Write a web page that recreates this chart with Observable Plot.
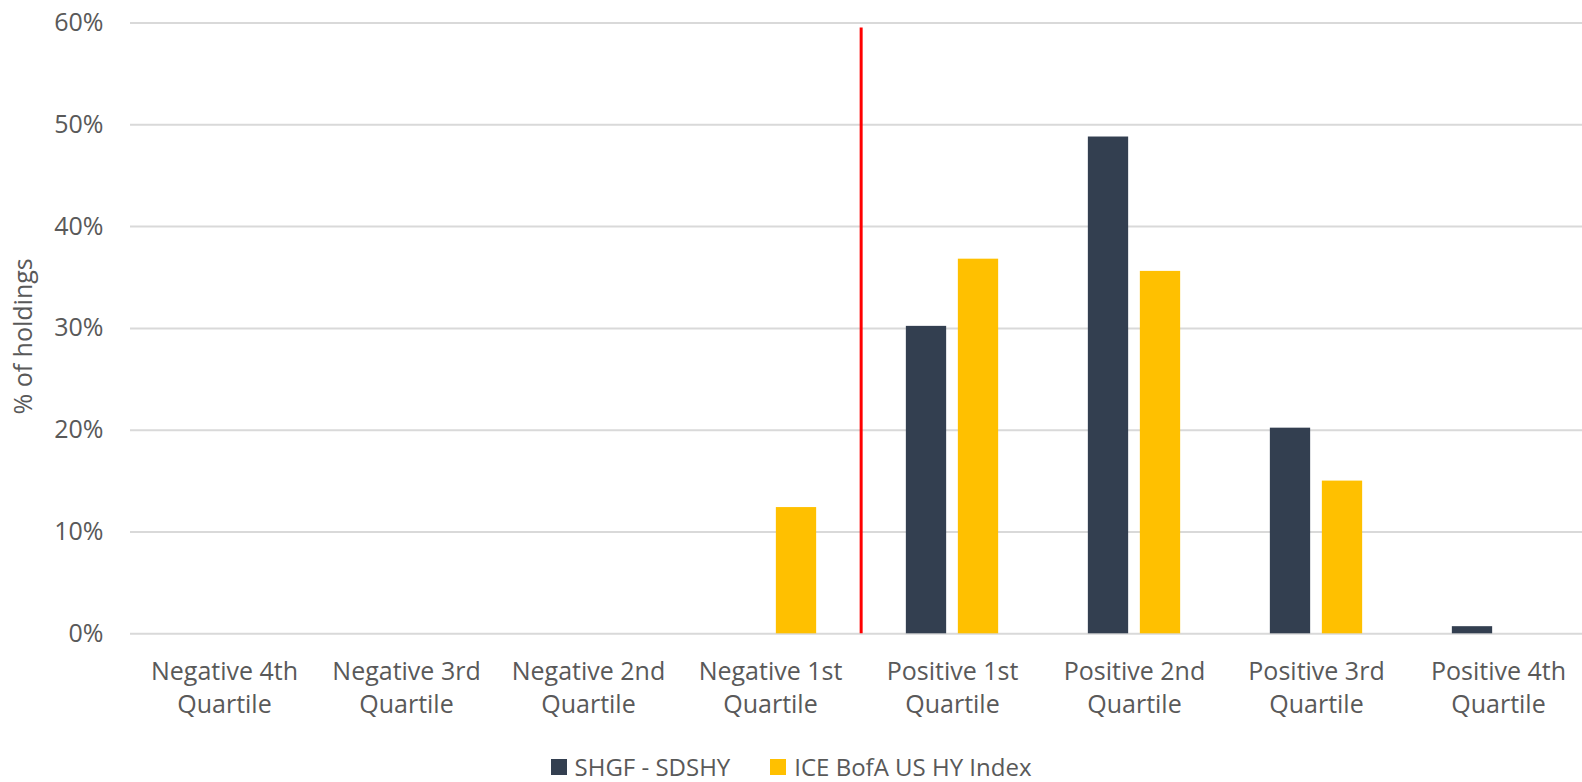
<!DOCTYPE html>
<html>
<head>
<meta charset="utf-8">
<script src="https://cdn.jsdelivr.net/npm/d3@7"></script>
<script src="https://cdn.jsdelivr.net/npm/@observablehq/plot@0.6"></script>
<style>
  html, body { margin: 0; padding: 0; background: #fff; }
  #chart { width: 1582px; }
  .legend { display: flex; justify-content: center; align-items: center; gap: 40px;
            font-family: "Open Sans", sans-serif; font-size: 24px; color: #595959;
            height: 37px; margin-top: 0px; padding-top: 6px; box-sizing: border-box; }
  .legend .item { display: flex; align-items: center; gap: 8px; }
  .legend .sw { width: 16px; height: 16px; display: inline-block; }
</style>
</head>
<body>
<div id="chart"></div>
<script>
// ---- data ----
const categories = [
  "Negative 4th Quartile", "Negative 3rd Quartile", "Negative 2nd Quartile", "Negative 1st Quartile",
  "Positive 1st Quartile", "Positive 2nd Quartile", "Positive 3rd Quartile", "Positive 4th Quartile"
];
const seriesNames = ["SHGF - SDSHY", "ICE BofA US HY Index"];
const shgfValues = [0, 0, 0, 0, 30.2, 48.8, 20.2, 0.7];
const iceValues  = [0, 0, 0, 12.4, 36.8, 35.6, 15.0, 0];
const yTicks = [0, 10, 20, 30, 40, 50, 60];
const dividerBefore = "Positive 1st Quartile";
const dividerTop = 59.5;
const yLabel = "% of holdings";

// ---- layout / style ----
const colors = ["#333F50", "#FFC000"];
const W = 1582, H = 745;
const xRange = [130, 1591.6];
const step = (xRange[1] - xRange[0]) / categories.length;
const barW = 41, barOff = 26;
const inset = (step - barW) / 2;

const rows = categories.map((c, i) => ({cat: c, s: shgfValues[i], i: iceValues[i]}));
const line1 = c => c.replace(/ Quartile$/, "");
const line2 = c => "Quartile";

const plot = Plot.plot({
  width: W,
  height: H,
  marginTop: 22.5,
  marginBottom: H - 633.3,
  marginLeft: 130,
  marginRight: 0,
  style: {fontFamily: "'Open Sans', sans-serif", fontSize: "25px", color: "#595959", background: "#fff"},
  x: {type: "band", domain: categories, range: xRange, padding: 0, axis: null},
  y: {domain: [0, 60], ticks: yTicks, tickFormat: d => d + "%", tickSize: 0, tickPadding: 27, label: null},
  marks: [
    Plot.ruleY(yTicks, {stroke: "#d9d9d9", strokeWidth: 2}),
    Plot.barY(rows, {x: "cat", y: "s", fill: colors[0], insetLeft: inset, insetRight: inset, dx: -barOff}),
    Plot.barY(rows, {x: "cat", y: "i", fill: colors[1], insetLeft: inset, insetRight: inset, dx: barOff}),
    Plot.ruleX([dividerBefore], {x: d => d, y1: 0, y2: dividerTop, stroke: "#FF0000", strokeWidth: 3, dx: -step / 2}),
    Plot.text(categories, {x: d => d, text: line1, frameAnchor: "bottom", lineAnchor: "middle", dy: 38, fill: "#595959", fontSize: 25}),
    Plot.text(categories, {x: d => d, text: line2, frameAnchor: "bottom", lineAnchor: "middle", dy: 71, fill: "#595959", fontSize: 25}),
    Plot.text([yLabel], {text: d => d, frameAnchor: "left", textAnchor: "middle", rotate: -90, dx: -107, dy: 8, fill: "#595959", fontSize: 25})
  ]
});
document.getElementById("chart").appendChild(plot);

const legend = document.createElement("div");
legend.className = "legend";
seriesNames.forEach((name, k) => {
  const item = document.createElement("span");
  item.className = "item";
  const sw = document.createElement("span");
  sw.className = "sw";
  sw.style.background = colors[k];
  const label = document.createElement("span");
  label.textContent = name;
  item.appendChild(sw);
  item.appendChild(label);
  legend.appendChild(item);
});
document.getElementById("chart").appendChild(legend);
</script>
</body>
</html>
